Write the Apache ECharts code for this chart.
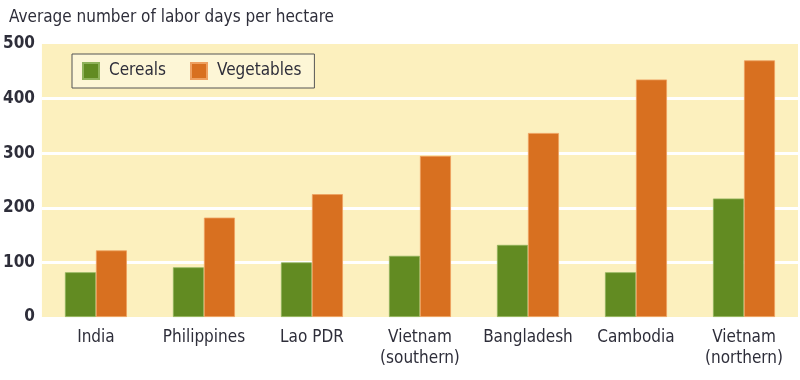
<!DOCTYPE html>
<html>
<head>
<meta charset="utf-8">
<script src="https://cdn.jsdelivr.net/npm/echarts@6/dist/echarts.min.js"></script>
<style>
html,body{margin:0;padding:0;background:#fff;}
#chart{width:800px;height:380px;}
</style>
</head>
<body>
<div id="chart"></div>
<script>
const categories = ['India', 'Philippines', 'Lao PDR', 'Vietnam\n(southern)', 'Bangladesh', 'Cambodia', 'Vietnam\n(northern)'];
const cereals = [82, 91, 100, 112, 132, 82, 217];
const vegetables = [122, 182, 225, 295, 337, 435, 470];
const yTicks = [0, 100, 200, 300, 400, 500];

const FONT = '"Liberation Sans Narrow", "DejaVu Sans Condensed", "Roboto Condensed", sans-serif';
const TXT = '#2e2e3a';

const chart = echarts.init(document.getElementById('chart'));
chart.setOption({
  animation: false,
  title: {
    text: 'Average number of labor days per hectare',
    left: 4, top: 4,
    textStyle: { fontFamily: FONT, fontSize: 17, fontWeight: 'normal', color: TXT }
  },
  legend: {
    left: 72, top: 54,
    itemWidth: 16, itemHeight: 16, itemGap: 24,
    icon: 'rect',
    padding: [8, 13, 8, 10],
    backgroundColor: '#fdf6d6',
    borderColor: '#555',
    borderWidth: 1,
    textStyle: { fontFamily: FONT, fontSize: 17, color: TXT, padding: [0, 0, 0, 5] },
    data: ['Cereals', 'Vegetables']
  },
  grid: {
    left: 39, right: 2, top: 44, bottom: 63,
    show: true, backgroundColor: '#fcf0be', borderWidth: 0
  },
  xAxis: {
    type: 'category',
    data: categories,
    axisLine: { show: false },
    axisTick: { show: false },
    axisLabel: { interval: 0, fontFamily: FONT, fontSize: 17, color: TXT, margin: 10, lineHeight: 21 }
  },
  yAxis: {
    type: 'value',
    min: 0, max: 500, interval: 100,
    axisLine: { show: false },
    axisTick: { show: false },
    axisLabel: {
      fontFamily: FONT, fontSize: 17, fontWeight: 'bold', color: TXT, margin: 7,
      formatter: v => yTicks.includes(v) ? String(v) : ''
    },
    splitLine: {
      show: true,
      lineStyle: { color: ['rgba(0,0,0,0)', '#ffffff', '#ffffff', '#ffffff', '#ffffff', 'rgba(0,0,0,0)'], width: 3 }
    }
  },
  series: [
    {
      name: 'Cereals', type: 'bar', data: cereals,
      barWidth: 31, barGap: '0%',
      itemStyle: { color: '#628b22', borderColor: '#8fb25a', borderWidth: 0.8 }
    },
    {
      name: 'Vegetables', type: 'bar', data: vegetables,
      barWidth: 31,
      itemStyle: { color: '#d87020', borderColor: '#eea060', borderWidth: 0.8 }
    }
  ]
});
</script>
</body>
</html>
